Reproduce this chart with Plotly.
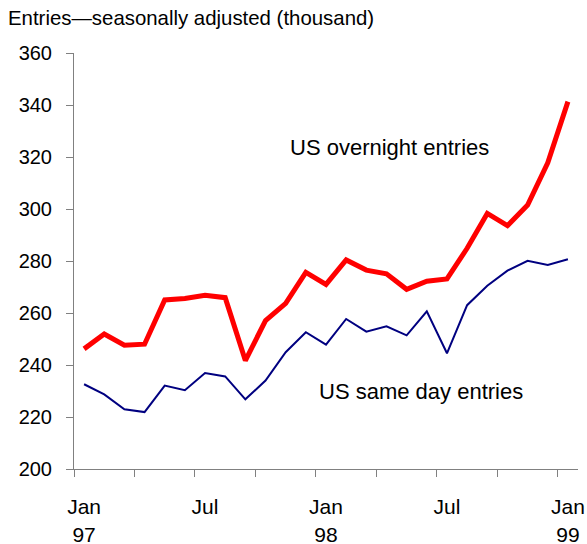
import plotly.graph_objects as go

months = ["Jan 97","Feb 97","Mar 97","Apr 97","May 97","Jun 97","Jul 97","Aug 97","Sep 97","Oct 97","Nov 97","Dec 97",
          "Jan 98","Feb 98","Mar 98","Apr 98","May 98","Jun 98","Jul 98","Aug 98","Sep 98","Oct 98","Nov 98","Dec 98","Jan 99"]
overnight = [246.2, 251.9, 247.6, 248.0, 265.0, 265.6, 266.8, 265.9, 241.7, 257.1, 263.7, 275.6,
             271.0, 280.4, 276.5, 275.1, 269.1, 272.2, 273.1, 284.9, 298.3, 293.6, 301.5, 317.8, 341.3]
same_day = [232.6, 228.7, 223.0, 221.9, 232.1, 230.3, 236.9, 235.6, 226.8, 234.0, 244.9, 252.6,
            247.8, 257.7, 252.8, 254.9, 251.4, 260.6, 244.5, 263.0, 270.5, 276.3, 280.1, 278.5, 280.7]
label_idx = [0, 6, 12, 18, 24]
label_text = ["Jan<br>97", "Jul", "Jan<br>98", "Jul", "Jan<br>99"]
y_ticks = [200, 220, 240, 260, 280, 300, 320, 340, 360]

x = list(range(len(months)))
FONT = "Liberation Sans, Arial, sans-serif"
AX = "#808080"

fig = go.Figure()
fig.add_trace(go.Scatter(x=x, y=same_day, mode="lines", line=dict(color="#000080", width=2),
                         xaxis="x2", hoverinfo="skip", cliponaxis=False))
fig.add_trace(go.Scatter(x=x, y=overnight, mode="lines", line=dict(color="#FF0000", width=5),
                         hoverinfo="skip", cliponaxis=False))

rng = [-0.5, len(months) - 0.5]
fig.update_layout(
    width=587, height=544,
    margin=dict(l=74, r=9, t=53, b=75),
    paper_bgcolor="white", plot_bgcolor="white",
    showlegend=False,
    font=dict(family=FONT, size=20, color="black"),
    xaxis=dict(range=rng, tickvals=[v + 0.5 for v in range(-1, len(months), 3)],
               showticklabels=False, ticks="outside", ticklen=7, tickcolor=AX, tickwidth=1,
               showline=True, linecolor=AX, linewidth=1, showgrid=False, zeroline=False,
               automargin=False),
    xaxis2=dict(range=rng, overlaying="x", side="bottom", tickvals=label_idx, ticktext=label_text,
                ticks="outside", ticklen=19, tickcolor="rgba(0,0,0,0)", showline=False,
                showgrid=False, zeroline=False, tickfont=dict(size=21), automargin=False),
    yaxis=dict(range=[200, 360], tickvals=y_ticks, ticks="outside", ticklen=7, tickcolor=AX,
               showline=True, linecolor=AX, linewidth=1, showgrid=False, zeroline=False,
               ticklabelstandoff=10, tickfont=dict(size=20), automargin=False),
    annotations=[
        dict(text="Entries\u2014seasonally adjusted (thousand)", xref="paper", yref="paper",
             x=-68/504, xanchor="left", y=1 + (53 - 18) / 416, yanchor="middle", showarrow=False,
             font=dict(size=20.4, family=FONT)),
        dict(text="US overnight entries", x=15.15, y=323.8, xref="x", yref="y", showarrow=False,
             font=dict(size=22, family=FONT)),
        dict(text="US same day entries", x=16.71, y=230.0, xref="x", yref="y", showarrow=False,
             font=dict(size=22, family=FONT)),
    ],
)

fig.write_html("out.html", config={"displayModeBar": False},
               post_script="document.body.style.margin='0px';document.body.style.overflow='hidden';")
